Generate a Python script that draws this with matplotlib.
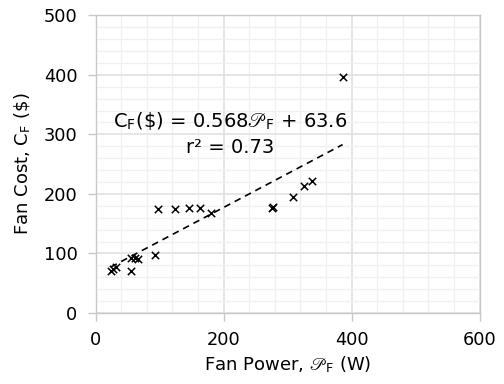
import matplotlib.pyplot as plt
import numpy as np
from matplotlib.ticker import MultipleLocator

plt.rcParams['font.family'] = 'DejaVu Sans'
plt.rcParams['mathtext.fontset'] = 'stix'

# fan power (W) and installed fan cost ($)
fan_power = [24, 32, 28, 56, 56, 61, 66, 93, 97, 124, 146, 164, 181,
             275, 278, 309, 325, 338, 386]
fan_cost = [71, 77, 74, 71, 92, 93, 91, 97, 174, 174, 177, 177, 168,
            177, 178, 195, 213, 222, 396]

slope = 0.568
intercept = 63.6
r2 = 0.73

fig = plt.figure(figsize=(5.04, 3.84), dpi=100)
ax = fig.add_axes([0.1895, 0.185, 0.762, 0.775])

ax.scatter(fan_power, fan_cost, marker='x', color='black', s=28,
           linewidths=1.1, zorder=3)

xs = np.array([min(fan_power), max(fan_power)])
ax.plot(xs, slope * xs + intercept, color='black', linestyle=(0, (4, 3)),
        linewidth=1.2, zorder=3)

ax.set_xlim(0, 600)
ax.set_ylim(0, 500)
ax.xaxis.set_major_locator(MultipleLocator(200))
ax.xaxis.set_minor_locator(MultipleLocator(40))
ax.yaxis.set_major_locator(MultipleLocator(100))
ax.yaxis.set_minor_locator(MultipleLocator(20))

ax.grid(True, which='major', color='#e2e2e2', linewidth=1.2, zorder=0)
ax.grid(True, which='minor', color='#f0f0f0', linewidth=1.0, zorder=0)
ax.set_axisbelow(True)

for sp in ax.spines.values():
    sp.set_color('#c8c8c8')
    sp.set_linewidth(1.0)

ax.tick_params(which='major', length=6, width=1, color='#c8c8c8',
               labelsize=12.8, pad=7)
ax.tick_params(which='minor', length=0)

ax.set_xlabel(r'Fan Power, $\mathscr{P}_\mathregular{F}$ (W)', fontsize=13, labelpad=4)
ax.set_ylabel(r'Fan Cost, C$_\mathregular{F}$ (\$)', fontsize=13, labelpad=8)

ax.text(210, 322, r'C$_\mathregular{F}$(\$) = ' + f'{slope}' + r'$\mathscr{P}_\mathregular{F}$ + ' + f'{intercept}',
        fontsize=14, ha='center', va='center')
ax.text(210, 278, f'r² = {r2}', fontsize=14, ha='center', va='center')

fig.savefig('out.png', dpi=100)
